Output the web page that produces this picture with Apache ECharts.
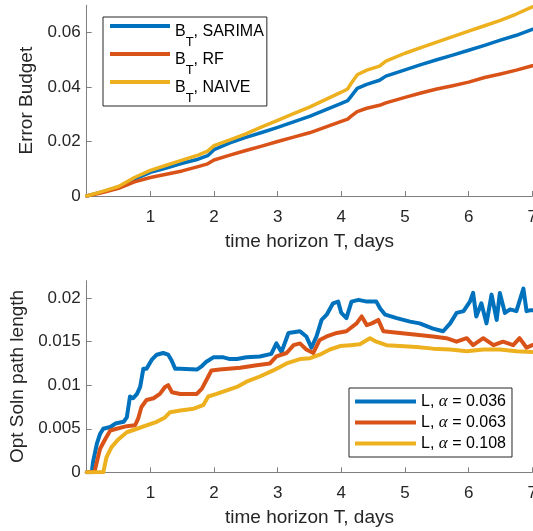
<!DOCTYPE html>
<html><head><meta charset="utf-8">
<script src="https://cdn.jsdelivr.net/npm/echarts@6/dist/echarts.min.js"></script>
<style>html,body{margin:0;padding:0;background:#fff}#c{width:533px;height:531px}</style>
</head><body><div id="c"></div>
<script>
// ---- Top panel: error budget ----
const budgetDays   = [0,0.25,0.5,0.75,1,1.25,1.5,1.75,1.9,2,2.25,2.5,2.75,3,3.25,3.5,3.75,4,4.1,4.15,4.25,4.4,4.6,4.7,5,5.25,5.5,5.75,6,6.25,6.5,6.75,7];
const budgetSarima = [0,0.0015,0.0033,0.0062,0.0087,0.0103,0.0120,0.0135,0.0148,0.0170,0.0195,0.0215,0.0233,0.0252,0.0272,0.0292,0.0316,0.0340,0.0350,0.0365,0.0395,0.0410,0.0425,0.0440,0.0463,0.0482,0.0500,0.0517,0.0535,0.0553,0.0572,0.0590,0.0612];
const budgetRF     = [0,0.0013,0.0028,0.0052,0.0068,0.0080,0.0092,0.0108,0.0118,0.0132,0.0150,0.0167,0.0183,0.0200,0.0216,0.0232,0.0253,0.0274,0.0282,0.0292,0.0310,0.0322,0.0333,0.0342,0.0362,0.0378,0.0393,0.0405,0.0418,0.0435,0.0448,0.0462,0.0478];
const budgetNaive  = [0,0.0017,0.0035,0.0068,0.0094,0.0113,0.0132,0.0150,0.0165,0.0185,0.0206,0.0228,0.0254,0.0278,0.0302,0.0326,0.0354,0.0381,0.0393,0.0412,0.0445,0.0462,0.0477,0.0495,0.0524,0.0545,0.0565,0.0585,0.0605,0.0625,0.0645,0.0668,0.0694];

// ---- Bottom panel: optimal solution path length ----
const pathDaysA = [0,0.08,0.1,0.16,0.21,0.26,0.37,0.45,0.58,0.63,0.68,0.73,0.79,0.84,0.89,0.94,1.02,1.1,1.2,1.28,1.33,1.39,1.47,1.73,1.81,1.88,1.99,2.15,2.25,2.36,2.51,2.72,2.9,2.98,3.06,3.17,3.35,3.45,3.53,3.61,3.69,3.77,3.87,3.95,4.0,4.08,4.16,4.27,4.4,4.55,4.61,4.69,4.87,5.08,5.23,5.44,5.6,5.71,5.81,5.92,6.02,6.07,6.12,6.2,6.28,6.36,6.44,6.49,6.57,6.65,6.75,6.86,6.91,6.96,7.0];
const pathLenA  = [0,0,0.0012,0.0033,0.0044,0.005,0.0052,0.0056,0.0058,0.0063,0.0087,0.0085,0.009,0.0098,0.0119,0.0119,0.0129,0.0135,0.0137,0.0135,0.0129,0.0119,0.0119,0.0118,0.0122,0.0127,0.0132,0.0132,0.013,0.013,0.0132,0.0133,0.0136,0.0148,0.0138,0.016,0.0162,0.0156,0.0143,0.0156,0.0175,0.0181,0.0194,0.0196,0.0183,0.0177,0.0196,0.0198,0.0196,0.0196,0.0188,0.0181,0.0177,0.0173,0.0171,0.0165,0.0162,0.0171,0.0183,0.0185,0.0196,0.0206,0.0179,0.0194,0.0171,0.0204,0.0175,0.0206,0.0183,0.0187,0.0185,0.0211,0.0185,0.0186,0.0186];
const pathDaysB = [0,0.12,0.16,0.21,0.29,0.37,0.47,0.63,0.76,0.81,0.86,0.94,1.05,1.15,1.23,1.28,1.34,1.47,1.73,1.81,1.91,1.96,2.09,2.41,2.67,2.88,2.98,3.14,3.25,3.35,3.45,3.56,3.66,3.77,3.93,4.08,4.24,4.32,4.4,4.48,4.58,4.66,4.92,5.18,5.44,5.65,5.81,5.97,6.07,6.23,6.39,6.54,6.7,6.8,6.91,7.0];
const pathLenB  = [0,0,0.0012,0.0027,0.0038,0.0048,0.005,0.0053,0.0054,0.0062,0.0075,0.0083,0.0085,0.009,0.0098,0.01,0.0092,0.009,0.009,0.0096,0.011,0.0117,0.0118,0.012,0.0123,0.0125,0.0133,0.0137,0.0146,0.0148,0.0141,0.0137,0.0152,0.0156,0.016,0.0162,0.0171,0.0179,0.0169,0.0171,0.0175,0.0162,0.016,0.0158,0.0156,0.0154,0.015,0.0154,0.0146,0.0154,0.0146,0.015,0.0146,0.0154,0.0143,0.0146];
const pathDaysC = [0,0.26,0.31,0.39,0.5,0.63,0.79,0.94,1.1,1.23,1.31,1.47,1.68,1.83,1.91,2.04,2.2,2.36,2.51,2.72,2.93,3.14,3.35,3.51,3.66,3.82,3.98,4.14,4.29,4.45,4.55,4.71,4.92,5.18,5.44,5.71,5.97,6.23,6.49,6.75,7.0];
const pathLenC  = [0,0,0.0017,0.0029,0.0038,0.0046,0.005,0.0054,0.0058,0.0063,0.0069,0.0071,0.0073,0.0077,0.0087,0.009,0.0094,0.0098,0.0104,0.011,0.0117,0.0125,0.013,0.0131,0.0135,0.0141,0.0145,0.0146,0.0147,0.0154,0.015,0.0146,0.0145,0.0144,0.0142,0.0141,0.0139,0.0141,0.0141,0.0139,0.0138];

const topTicks = [0,0.02,0.04,0.06];
const botTicks = [0,0.005,0.01,0.015,0.02];
const xTitle = 'time horizon T, days';
const topYTitle = 'Error Budget';
const botYTitle = 'Opt Soln path length';

const COLORS = ['#0072BD','#D95319','#EDB120'];
const TXT = '#262626';
const AX = '#7f7f7f';
const FONT = 'Liberation Sans';

const pairs = (xs, ys) => xs.map((x, i) => [x, ys[i]]);

const legendLabels = {
  sarima: '{a|B}{s|T}{a|, SARIMA}',
  rf: '{a|B}{s|T}{a|, RF}',
  naive: '{a|B}{s|T}{a|, NAIVE}',
  a036: '{n|L, }{al|α}{n| = 0.036}',
  a063: '{n|L, }{al|α}{n| = 0.063}',
  a108: '{n|L, }{al|α}{n| = 0.108}'
};

function xAxisCfg(gi) {
  return {
    type: 'value', gridIndex: gi, min: 0, max: 7, interval: 1,
    name: xTitle, nameLocation: 'middle', nameGap: 36,
    nameTextStyle: { fontSize: 19, color: TXT, fontFamily: FONT },
    axisLine: { lineStyle: { color: AX, width: 1 } },
    axisTick: { inside: true, length: 5, lineStyle: { color: AX } },
    axisLabel: { showMinLabel: false, fontSize: 17, color: TXT, fontFamily: FONT, margin: 13 },
    splitLine: { show: false }
  };
}
function yAxisCfg(gi, max, ticks, name, gap) {
  return {
    type: 'value', gridIndex: gi, min: 0, max: max,
    name: name, nameLocation: 'middle', nameGap: gap,
    nameTextStyle: { fontSize: 19, color: TXT, fontFamily: FONT },
    axisLine: { show: true, lineStyle: { color: AX, width: 1 } },
    axisTick: { show: true, inside: true, length: 5, lineStyle: { color: AX }, customValues: ticks },
    axisLabel: { fontSize: 17, color: TXT, fontFamily: FONT, margin: 6, customValues: ticks },
    splitLine: { show: false }
  };
}
function lineSeries(name, data, gi, ci, w) {
  return {
    type: 'line', name: name, xAxisIndex: gi, yAxisIndex: gi, data: data,
    showSymbol: false, symbol: 'none', animation: false,
    lineStyle: { color: COLORS[ci], width: w, join: 'round', cap: 'round' },
    itemStyle: { color: COLORS[ci] }
  };
}

const chart = echarts.init(document.getElementById('c'), null, { renderer: 'canvas' });
chart.setOption({
  animation: false,
  backgroundColor: '#fff',
  textStyle: { fontFamily: FONT, color: TXT },
  grid: [
    { left: 86.7, top: 5.3, width: 445.6, height: 190.7, outerBoundsMode: 'none', containLabel: false },
    { left: 86.7, top: 280.7, width: 445.6, height: 191.6, outerBoundsMode: 'none', containLabel: false }
  ],
  xAxis: [xAxisCfg(0), xAxisCfg(1)],
  yAxis: [
    yAxisCfg(0, 0.07, topTicks, topYTitle, 46),
    yAxisCfg(1, 0.022, botTicks, botYTitle, 55)
  ],
  legend: [
    {
      data: ['sarima', 'rf', 'naive'], orient: 'vertical', left: 103, top: 17,
      icon: 'rect', itemWidth: 60, itemHeight: 4, itemGap: -4,
      padding: [0, 3, 1, 7], borderColor: '#262626', borderWidth: 1, backgroundColor: '#fff',
      selectedMode: false,
      formatter: n => legendLabels[n],
      textStyle: {
        rich: {
          a: { fontSize: 16, fontFamily: FONT, color: '#000', lineHeight: 18, padding: [7, 0, 0, 0], verticalAlign: 'top' },
          s: { fontSize: 13, fontFamily: FONT, color: '#000', lineHeight: 13, padding: [19, 0, 0, 0], verticalAlign: 'top' }
        }
      }
    },
    {
      data: ['a036', 'a063', 'a108'], orient: 'vertical', left: 349, top: 388,
      icon: 'rect', itemWidth: 61, itemHeight: 4, itemGap: 4,
      padding: [5, 6, 5, 6], borderColor: '#262626', borderWidth: 1, backgroundColor: '#fff',
      selectedMode: false,
      formatter: n => legendLabels[n],
      textStyle: {
        rich: {
          n: { fontSize: 16, fontFamily: FONT, color: '#000', lineHeight: 18 },
          al: { fontSize: 17, fontFamily: 'Liberation Serif', fontStyle: 'italic', color: '#000', lineHeight: 18 }
        }
      }
    }
  ],
  series: [
    lineSeries('sarima', pairs(budgetDays, budgetSarima), 0, 0, 3.5),
    lineSeries('rf', pairs(budgetDays, budgetRF), 0, 1, 3.5),
    lineSeries('naive', pairs(budgetDays, budgetNaive), 0, 2, 3.5),
    lineSeries('a036', pairs(pathDaysA, pathLenA), 1, 0, 4),
    lineSeries('a063', pairs(pathDaysB, pathLenB), 1, 1, 4),
    lineSeries('a108', pairs(pathDaysC, pathLenC), 1, 2, 4)
  ]
});
</script>
</body></html>
